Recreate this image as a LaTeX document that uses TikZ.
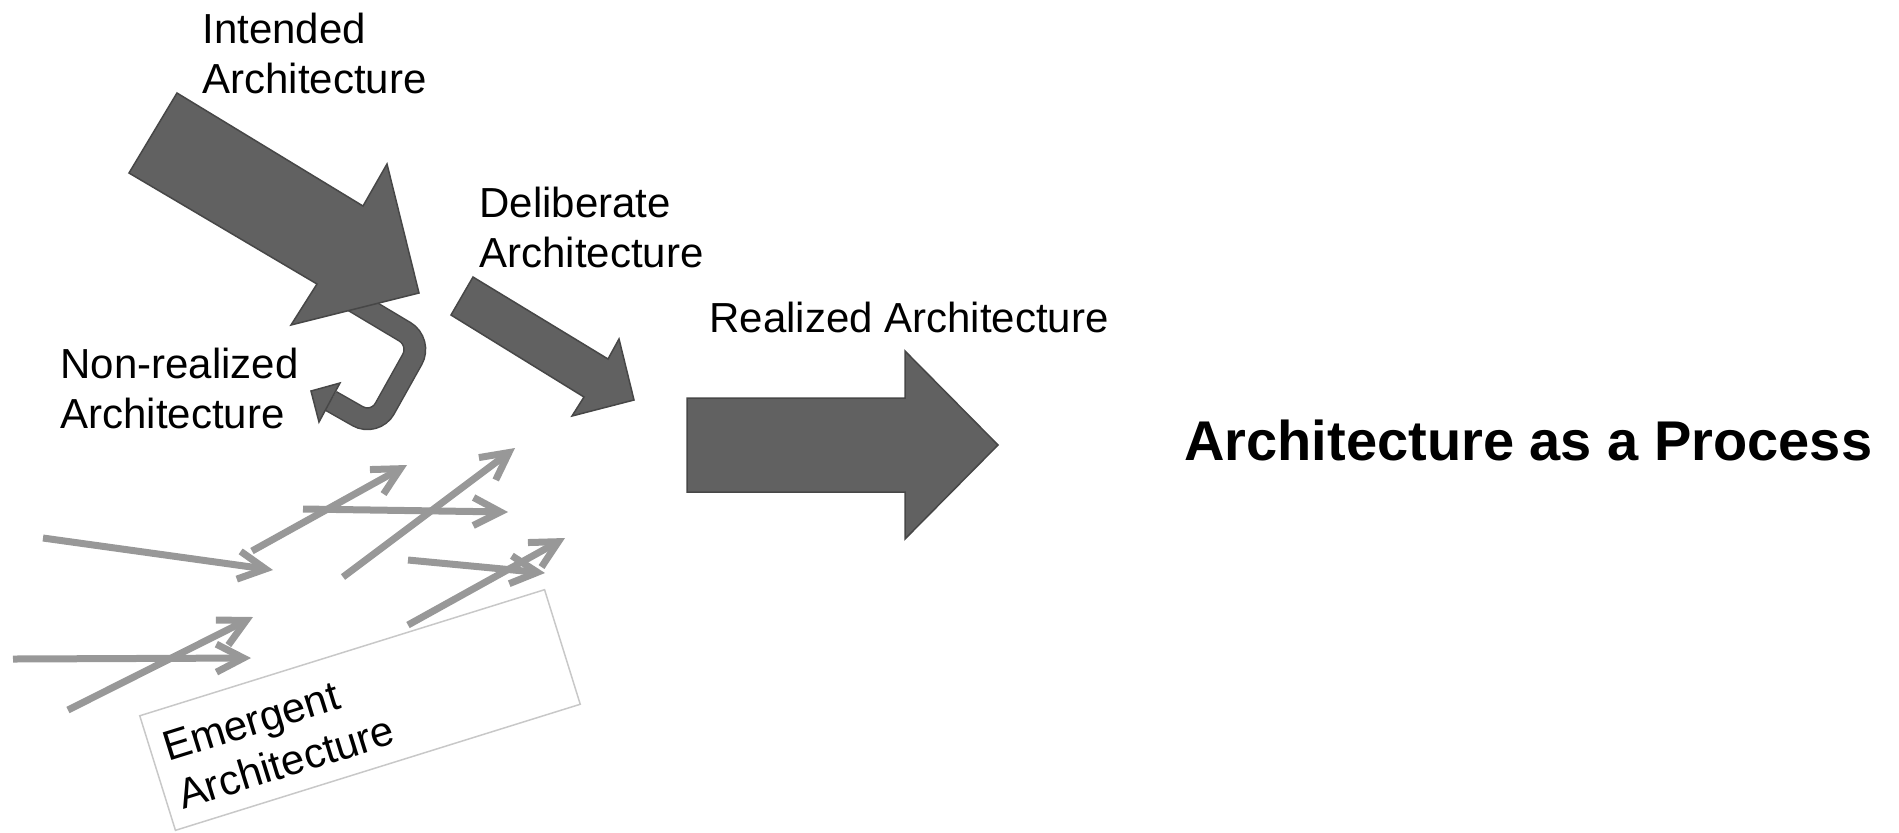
\documentclass[tikz,border=0pt]{standalone}
\usepackage{fontspec}
\setmainfont{Liberation Sans}
\usetikzlibrary{arrows.meta}
\definecolor{blockfill}{HTML}{616161}
\definecolor{blockedge}{HTML}{474747}
\definecolor{thinarrow}{HTML}{989898}
\definecolor{framegray}{HTML}{C8C8C8}
% two stacked lines whose baseline is the first line
\newcommand{\twoline}[2]{\vtop{\baselineskip=25pt\hbox{#1}\hbox{#2}}}
\begin{document}
\begin{tikzpicture}[x=0.5pt,y=-0.5pt,
  lbl/.style={inner sep=0pt, anchor=base west, font=\fontsize{21}{25}\selectfont},
  block/.style={fill=blockfill, draw=blockedge, line width=0.75pt, line join=miter},
  thinflow/.style={draw=thinarrow, line width=3.5pt, -{Straight Barb[length=13.5pt,width=14pt]}},
]
\useasboundingbox (0,0) rectangle (1899,832);

% labels
\node[lbl] (intended)    at (202,43)  {\twoline{Intended}{Architecture}};
\node[lbl] (deliberate)  at (479,217) {\twoline{Deliberate}{Architecture}};
\node[lbl] (nonrealized) at (60,378)  {\twoline{Non-realized}{Architecture}};
\node[lbl] (realized)    at (709,332) {Realized Architecture};
\node[inner sep=0pt, anchor=base west, font=\fontsize{28}{34}\selectfont\bfseries]
  (title) at (1184,460) {Architecture as a Process};

% non-realized U-turn: band with outline, then its head
\coordinate (ustart) at (350,299);
\coordinate (ucornerA) at (422,342);
\coordinate (ucornerB) at (375,426);
\coordinate (uend) at (331,401);
\draw[blockedge, line width=11.5pt, rounded corners=10pt]
  (ustart) -- (ucornerA) -- (ucornerB) -- (uend);
\draw[blockfill, line width=10pt, rounded corners=10pt]
  (ustart) -- (ucornerA) -- (ucornerB) -- (uend);
\path[block] (311,391) -- (340,383) -- (319,422) -- cycle;

% intended architecture arrow
\path[block] (177,93) -- (363,206) -- (387,164) -- (419,293) -- (291,325)
  -- (317,284) -- (129,173) -- cycle;

% deliberate architecture arrow
\path[block] (473,277) -- (608,359) -- (619,339) -- (634,400) -- (572,416)
  -- (584,397) -- (451,315) -- cycle;

% realized architecture arrow
\path[block] (687,398) -- (905,398) -- (905,351) -- (998,445) -- (905,539)
  -- (905,492) -- (687,492) -- cycle;

% emergent strands
\coordinate (e1a) at (43,538);  \coordinate (e1b) at (273,570);
\coordinate (e2a) at (252,551); \coordinate (e2b) at (407,465);
\coordinate (e3a) at (303,509); \coordinate (e3b) at (508,512);
\coordinate (e4a) at (343,577); \coordinate (e4b) at (515,448);
\coordinate (e5a) at (408,560); \coordinate (e5b) at (545,573);
\coordinate (e6a) at (408,625); \coordinate (e6b) at (565,538);
\coordinate (e7a) at (13,659);  \coordinate (e7b) at (251,658);
\coordinate (e8a) at (68,710);  \coordinate (e8b) at (253,617);
\foreach \k in {1,...,8}{\draw[thinflow] (e\k a) -- (e\k b);}

% emergent architecture frame
\node[draw=framegray, line width=0.75pt, rotate=17.3, minimum width=212pt,
  minimum height=60pt, inner sep=0pt] (emergentbox) at (360,710) {};
\node[lbl, rotate=17.3] (emergent) at (168,762) {\twoline{Emergent}{Architecture}};
\end{tikzpicture}
\end{document}
